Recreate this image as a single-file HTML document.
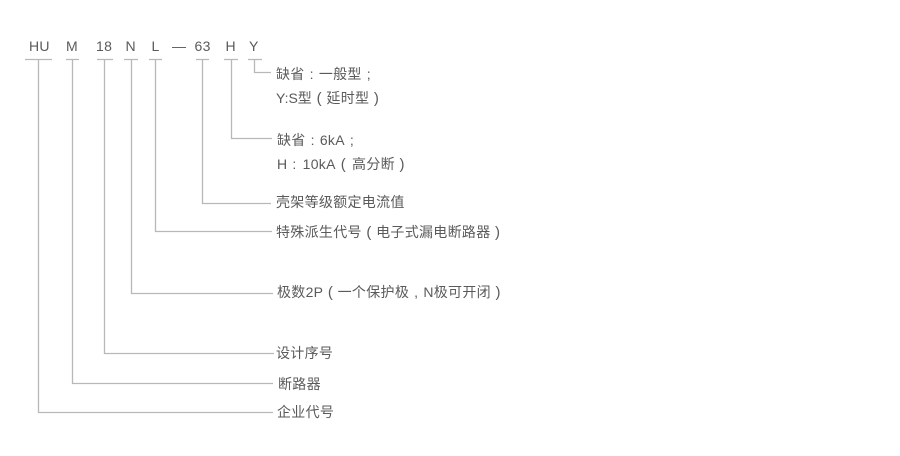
<!DOCTYPE html>
<html lang="zh">
<head>
<meta charset="utf-8">
<style>
html,body{margin:0;padding:0;background:#fff;width:900px;height:456px;overflow:hidden}
svg{display:block}
text{font-family:"Liberation Sans","Noto Sans CJK SC",sans-serif;font-size:14px;fill:#5a5a5a;letter-spacing:.3px}
.p{font-size:15px}
.n{letter-spacing:0}
</style>
</head>
<body>
<svg width="900" height="456" viewBox="0 0 900 456" xmlns="http://www.w3.org/2000/svg">
<g fill="none" stroke="#b8b8b8" stroke-width="1.3">
<path d="M25 59.500H52M66 59.500H79M97 59.500H113M124 59.500H138M149 59.500H162M196 59.500H209M224 59.500H238M248 59.500H262"/>
<path d="M38.500 59.500V412.500H273"/>
<path d="M72.500 59.500V383.500H273"/>
<path d="M104.500 59.500V353.500H274"/>
<path d="M131.500 59.500V293.500H273"/>
<path d="M155.500 59.500V231.500H272"/>
<path d="M202.500 59.500V203.500H271"/>
<path d="M231.500 59.500V138.500H272"/>
<path d="M254.500 59.500V72.500H271"/>
</g>
<text x="29" y="51">HU</text>
<text x="66" y="51">M</text>
<text x="96" y="51">18</text>
<text x="125.500" y="51">N</text>
<text x="151.500" y="51">L</text>
<text x="172" y="51">—</text>
<text x="194.500" y="51">63</text>
<text x="225.500" y="51">H</text>
<text x="249" y="51">Y</text>
<text x="276" y="79">缺省<tspan dx="5">:</tspan><tspan dx="5">一般型</tspan><tspan dx="5">;</tspan></text>
<text x="276" y="103"><tspan class="n">Y:S</tspan>型<tspan class="p" dx="4.500">(</tspan><tspan dx="4.500">延时型</tspan><tspan class="p" dx="4.500">)</tspan></text>
<text x="277" y="145">缺省<tspan dx="5">:</tspan><tspan dx="5">6kA</tspan><tspan dx="5">;</tspan></text>
<text x="277" y="169">H<tspan dx="5">:</tspan><tspan dx="6">10kA</tspan><tspan class="p" dx="5">(</tspan><tspan dx="6">高分断</tspan><tspan class="p" dx="4.500">)</tspan></text>
<text x="276" y="207">壳架等级额定电流值</text>
<text x="276" y="237">特殊派生代号<tspan class="p" dx="4.500">(</tspan><tspan dx="4.500">电子式漏电断路器</tspan><tspan class="p" dx="4.500">)</tspan></text>
<text x="277" y="297">极数2P<tspan class="p" dx="4.500">(</tspan><tspan dx="4.500">一个保护极</tspan><tspan dx="5">,</tspan><tspan dx="5">N极可开闭</tspan><tspan class="p" dx="4.500">)</tspan></text>
<text x="276" y="358">设计序号</text>
<text x="278" y="389">断路器</text>
<text x="277" y="417">企业代号</text>
</svg>
</body>
</html>
